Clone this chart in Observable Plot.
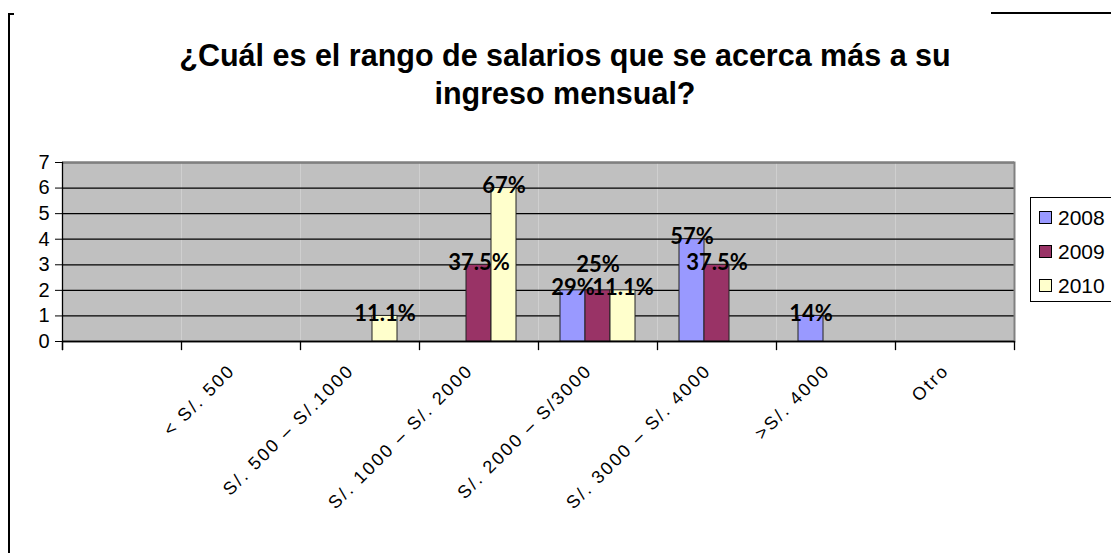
<!DOCTYPE html>
<html><head><meta charset="utf-8">
<script src="https://cdn.jsdelivr.net/npm/d3@7"></script>
<script src="https://cdn.jsdelivr.net/npm/@observablehq/plot@0.6"></script>
<style>
body{margin:0;background:#fff;}
#wrap{position:relative;width:1111px;height:553px;overflow:hidden;font-family:"Liberation Sans",Arial,sans-serif;background:#fff;}
#chart{position:absolute;left:0;top:0;}
#chart g[aria-label="fx-axis tick label"] text{letter-spacing:2.2px;}
#title{position:absolute;left:0;width:1130px;top:36px;text-align:center;font-weight:bold;font-size:30.5px;line-height:38px;color:#000;}
#legend{position:absolute;left:1030px;top:197px;width:120px;height:105px;border:1px solid #000;background:#fff;box-sizing:border-box;}
.li{position:absolute;left:8px;height:24px;font-size:21px;line-height:24px;}
.sw{display:inline-block;width:11px;height:11px;border:1px solid #000;margin-right:6px;vertical-align:1px;}
#fl{position:absolute;left:8px;top:13px;width:4px;height:560px;border-left:2px solid #000;border-top:2px solid #000;}
#ft{position:absolute;left:991px;top:12px;width:130px;border-top:2px solid #000;}
</style></head><body>
<div id="wrap">
  <div id="chart"></div>
  <div id="title">¿Cuál es el rango de salarios que se acerca más a su<br>ingreso mensual?</div>
  <div id="legend"></div>
  <div id="fl"></div>
  <div id="ft"></div>
</div>
<script>
const categories = ["", "< S/. 500", "S/. 500 – S/.1000", "S/. 1000 – S/. 2000", "S/. 2000 – S/3000", "S/. 3000 – S/. 4000", ">S/. 4000", "Otro"];
const years = ["2008", "2009", "2010"];
const values2008 = [0, 0, 0, 0, 2, 4, 1, 0];
const values2009 = [0, 0, 0, 3, 2, 3, 0, 0];
const values2010 = [0, 0, 1, 6, 2, 0, 0, 0];
const labels2008 = ["", "", "", "", "29%", "57%", "14%", ""];
const labels2009 = ["", "", "", "37.5%", "25%", "37.5%", "", ""];
const labels2010 = ["", "", "11.1%", "67%", "11.1%", "", "", ""];
const colors = ["#9999FF", "#993366", "#FFFFCC"];
const yTicks = [0, 1, 2, 3, 4, 5, 6, 7];

const series = [
  {year: years[0], values: values2008, labels: labels2008},
  {year: years[1], values: values2009, labels: labels2009},
  {year: years[2], values: values2010, labels: labels2010}
];
const rows = [];
for (const s of series) {
  categories.forEach((c, i) => {
    rows.push({category: c, year: s.year, value: s.values[i], label: s.labels[i]});
  });
}
// the 2009 label in "S/. 2000 – S/3000" is lifted in the original to avoid overlap
const isLifted = d => d.year === years[1] && d.category === categories[4];

const H = 553, mTop = 162, mBottom = 212;
const plotH = H - mTop - mBottom;

const chart = Plot.plot({
  width: 1111,
  height: H,
  marginLeft: 60,
  marginRight: 96,
  marginTop: mTop,
  marginBottom: mBottom,
  style: {fontFamily: "'Liberation Sans', Arial, sans-serif", background: "transparent", overflow: "visible", color: "#000"},
  fx: {domain: categories, padding: 0, label: null},
  x: {domain: years, paddingInner: 0, paddingOuter: 0.8, axis: null},
  y: {domain: [0, 7], label: null},
  color: {domain: years, range: colors},
  marks: [
    Plot.frame({fill: "#C0C0C0", stroke: null}),
    Plot.gridY(yTicks, {stroke: "#000", strokeOpacity: 1, strokeWidth: 1.3}),
    Plot.ruleY([7], {stroke: "#808080", strokeWidth: 2}),
    Plot.frame({anchor: "right", stroke: "#808080", strokeWidth: 2, facetAnchor: "right"}),
    Plot.frame({anchor: "left", stroke: "#000", strokeWidth: 1.3, insetBottom: -8, facetAnchor: "left"}),
    Plot.frame({anchor: "left", stroke: "#000", strokeWidth: 1.3, insetTop: plotH, insetBottom: -8}),
    Plot.frame({anchor: "right", stroke: "#000", strokeWidth: 1.3, insetTop: plotH, insetBottom: -8, facetAnchor: "right"}),
    Plot.barY(rows, {filter: d => d.value > 0, fx: "category", x: "year", y: "value", fill: "year", stroke: "#222", strokeWidth: 1}),
    Plot.ruleY([0], {stroke: "#000", strokeWidth: 1.3}),
    Plot.text(rows, {filter: d => !isLifted(d), fx: "category", x: "year", y: "value", text: "label", lineAnchor: "bottom", dy: 5,
      fontWeight: "bold", fontSize: 22, fontFamily: "Lato, 'Open Sans', sans-serif", fill: "#000"}),
    Plot.text(rows, {filter: isLifted, fx: "category", x: "year", y: "value", text: "label", lineAnchor: "bottom", dy: -18,
      fontWeight: "bold", fontSize: 22, fontFamily: "Lato, 'Open Sans', sans-serif", fill: "#000"}),
    Plot.axisY(yTicks, {anchor: "left", tickSize: 7, tickPadding: 6, fontSize: 20, tickFormat: d => String(d), label: null}),
    Plot.axisFx({anchor: "bottom", tickRotate: -45, tickSize: 0, tickPadding: 26, dx: -9, fontSize: 18, label: null})
  ]
});
document.getElementById("chart").appendChild(chart);

const legend = document.getElementById("legend");
series.forEach((s, i) => {
  const d = document.createElement("div");
  d.className = "li";
  d.style.top = (8 + i * 34) + "px";
  const sw = document.createElement("span");
  sw.className = "sw";
  sw.style.background = colors[i];
  d.appendChild(sw);
  d.appendChild(document.createTextNode(s.year));
  legend.appendChild(d);
});
</script>
</body></html>
